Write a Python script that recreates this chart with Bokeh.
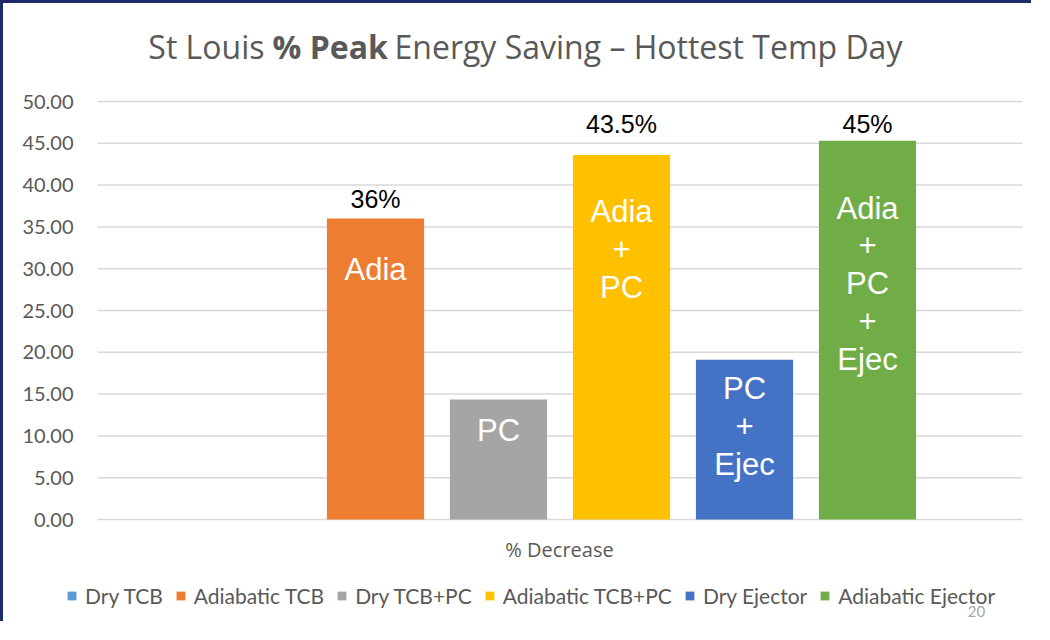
from bokeh.plotting import figure
from bokeh.models import Range1d, Label, Legend, LegendItem, ColumnDataSource
from bokeh.core.properties import value
from bokeh.embed import file_html
from bokeh.resources import INLINE

# ---------------- data ----------------
series = ["Dry TCB", "Adiabatic TCB", "Dry TCB+PC", "Adiabatic TCB+PC",
          "Dry Ejector", "Adiabatic Ejector"]
values = [0.0, 36.0, 14.35, 43.6, 19.1, 45.3]
top_labels = ["", "36%", "", "43.5%", "", "45%"]
inner_labels = ["", "Adia", "PC", "Adia\n+\nPC", "PC\n+\nEjec", "Adia\n+\nPC\n+\nEjec"]
category_label = "% Decrease"
y_ticks = [0, 5, 10, 15, 20, 25, 30, 35, 40, 45, 50]
title_parts = ["St Louis", "% Peak", "Energy Saving \u2013 Hottest Temp Day"]
page_number = "20"

# ---------------- style / layout ----------------
colors = ["#5B9BD5", "#ED7D31", "#A5A5A5", "#FFC000", "#4472C4", "#70AD47"]
top_label_raise = [0, 2.3, 0, 3.7, 0, 2.0]
inner_label_y = [0, 29.9, 10.65, 32.3, 11.1, 28.2]
BODY = "Lato"
TITLE_FONT = "Open Sans"
ARIAL = "Liberation Sans"
GREY = "#595959"
BORDER = 3
W, H = 1031, 621

# pixel (picture coords) -> data helpers: plot area 97..1022 px, 0 at y=519, 8.36 px/unit
X0PX, XSTEP = 252.0, 123.0
Y0PX, YSTEP = 519.0, 8.36

def dx(px):
    return (px - X0PX) / XSTEP

def dy(py):
    return (Y0PX - py) / YSTEP

p = figure(width=W, height=H, output_backend="svg", toolbar_location=None,
           x_range=Range1d(dx(BORDER), dx(BORDER + W)),
           y_range=Range1d(dy(BORDER + H), dy(BORDER)),
           min_border=0, min_border_left=0, min_border_right=0,
           min_border_top=0, min_border_bottom=0)
p.styles = {"border-top": "3px solid #1F2A6B", "border-left": "3px solid #1F2A6B"}
p.outline_line_color = None
p.background_fill_color = "white"
p.border_fill_color = "white"
p.xaxis.visible = False
p.yaxis.visible = False
p.xgrid.visible = False
p.ygrid.visible = False

# gridlines across the plot area, one per y tick
p.segment(x0=dx(97), x1=dx(1022), y0=y_ticks, y1=y_ticks,
          line_color="#D9D9D9", line_width=1.5)

# y tick labels
p.text(x=dx(73), y=y_ticks, text=[f"{t:.2f}" for t in y_ticks],
       text_font=value(BODY), text_font_size="20px", text_color=GREY,
       text_align="right", text_baseline="middle")

xs = list(range(len(series)))
items = []
for i, (name, v, c) in enumerate(zip(series, values, colors)):
    r = p.vbar(x=[xs[i]], top=[v], bottom=0, width=0.79, fill_color=c, line_color=None)
    items.append(LegendItem(label=name, renderers=[r]))

# inner labels
src_in = ColumnDataSource(dict(x=xs, y=inner_label_y, t=inner_labels))
p.text(x="x", y="y", text="t", source=src_in, text_color="white",
       text_font=value(ARIAL), text_font_size="31px", text_align="center",
       text_baseline="middle", text_line_height=1.08)

# value labels above bars
src_top = ColumnDataSource(dict(x=xs, y=[v + r for v, r in zip(values, top_label_raise)], t=top_labels))
p.text(x="x", y="y", text="t", source=src_top, text_color="black",
       text_font=value(ARIAL), text_font_size="25px", text_align="center",
       text_baseline="middle")

# title (three pieces for mixed weight)
for txt, xpix, align, style in zip(title_parts, [264, 272, 394],
                                   ["right", "left", "left"],
                                   ["normal", "bold", "normal"]):
    p.add_layout(Label(x=dx(xpix), y=dy(46), text=txt, text_font=TITLE_FONT,
                       text_font_size="32px", text_color=GREY, text_font_style=style,
                       text_align=align, text_baseline="middle"))

p.add_layout(Label(x=dx(559), y=dy(549), text=category_label, text_font=TITLE_FONT,
                   text_font_size="20px", text_color=GREY, text_align="center",
                   text_baseline="middle"))
p.add_layout(Label(x=dx(976), y=dy(611), text=page_number, text_font=BODY,
                   text_font_size="15px", text_color="#A6A6A6", text_align="center",
                   text_baseline="middle"))

legend = Legend(items=items, orientation="horizontal", location=(66 - BORDER, 624 - 608),
                glyph_width=11, glyph_height=11, label_standoff=8, spacing=12,
                padding=0, margin=0, border_line_alpha=0, background_fill_alpha=0,
                label_text_font=BODY, label_text_font_size="21px",
                label_text_color=GREY)
p.add_layout(legend, "center")

open("out.html", "w").write(file_html(p, INLINE))
